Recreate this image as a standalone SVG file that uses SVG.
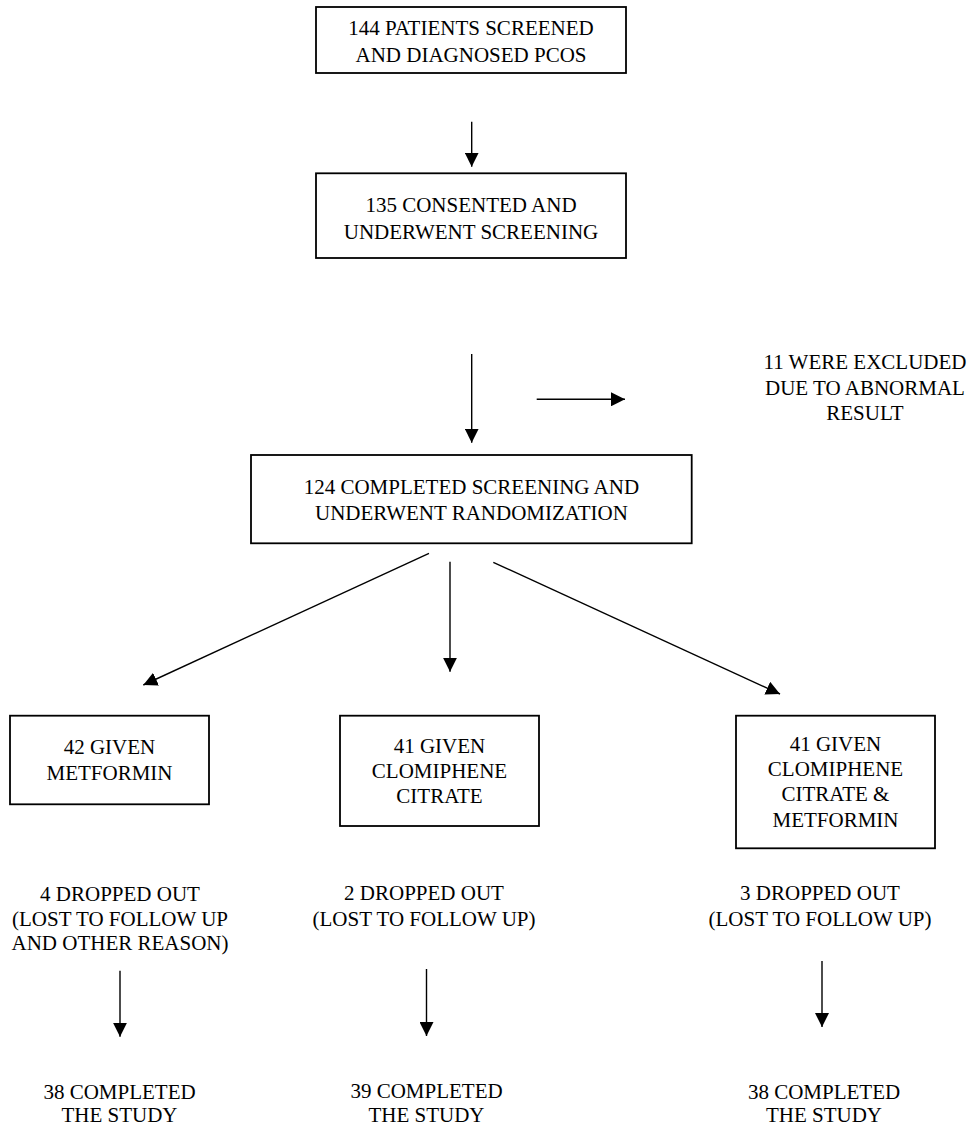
<svg xmlns="http://www.w3.org/2000/svg" width="970" height="1125" viewBox="0 0 970 1125">
<style>
  text { font-family: "Liberation Serif", "Times New Roman", serif; font-size: 21px; fill: #000; text-anchor: middle; }
  .box { fill: #fff; stroke: #000; stroke-width: 1.8; }
  .conn line { stroke: #000; stroke-width: 1.4; marker-end: url(#ah); }
</style>
<defs>
  <marker id="ah" viewBox="0 0 14 14" refX="14" refY="7" markerWidth="14" markerHeight="14" markerUnits="userSpaceOnUse" orient="auto">
    <path d="M0,0 L14,7 L0,14 z" fill="#000"/>
  </marker>
</defs>
<rect width="970" height="1125" fill="#fff"/>

<g id="n-screened">
  <rect class="box" x="316" y="7" width="310" height="66"/>
  <text x="471" y="35.3">144 PATIENTS SCREENED</text>
  <text x="471" y="61.7">AND DIAGNOSED PCOS</text>
</g>
<g id="n-consented">
  <rect class="box" x="316" y="173.3" width="310" height="84.7"/>
  <text x="471" y="212">135 CONSENTED AND</text>
  <text x="471" y="238.7">UNDERWENT SCREENING</text>
</g>
<g id="n-excluded">
  <text x="865" y="368.7">11 WERE EXCLUDED</text>
  <text x="865" y="395">DUE TO ABNORMAL</text>
  <text x="865" y="420">RESULT</text>
</g>
<g id="n-randomized">
  <rect class="box" x="251" y="455" width="440.7" height="88.3"/>
  <text x="471.4" y="493.7">124 COMPLETED SCREENING AND</text>
  <text x="471.4" y="520.3">UNDERWENT RANDOMIZATION</text>
</g>
<g id="n-metformin">
  <rect class="box" x="10" y="715.7" width="199" height="88.6"/>
  <text x="109.5" y="754.3">42 GIVEN</text>
  <text x="109.5" y="779.7">METFORMIN</text>
</g>
<g id="n-clomiphene">
  <rect class="box" x="340" y="715.7" width="199" height="110.3"/>
  <text x="439.5" y="752.7">41 GIVEN</text>
  <text x="439.5" y="778">CLOMIPHENE</text>
  <text x="439.5" y="803.3">CITRATE</text>
</g>
<g id="n-combined">
  <rect class="box" x="736" y="715.7" width="199" height="132.6"/>
  <text x="835.5" y="750.5">41 GIVEN</text>
  <text x="835.5" y="776">CLOMIPHENE</text>
  <text x="835.5" y="801.3">CITRATE &amp;</text>
  <text x="835.5" y="826.6">METFORMIN</text>
</g>
<g id="n-drop-left">
  <text x="120" y="901">4 DROPPED OUT</text>
  <text x="120" y="926">(LOST TO FOLLOW UP</text>
  <text x="120" y="950.3">AND OTHER REASON)</text>
</g>
<g id="n-drop-mid">
  <text x="424" y="900">2 DROPPED OUT</text>
  <text x="424" y="925.5">(LOST TO FOLLOW UP)</text>
</g>
<g id="n-drop-right">
  <text x="820" y="900">3 DROPPED OUT</text>
  <text x="820" y="925.5">(LOST TO FOLLOW UP)</text>
</g>
<g id="n-done-left">
  <text x="119.5" y="1098.7">38 COMPLETED</text>
  <text x="119.5" y="1122">THE STUDY</text>
</g>
<g id="n-done-mid">
  <text x="426.5" y="1097.5">39 COMPLETED</text>
  <text x="426.5" y="1122">THE STUDY</text>
</g>
<g id="n-done-right">
  <text x="824" y="1098.7">38 COMPLETED</text>
  <text x="824" y="1122">THE STUDY</text>
</g>

<g id="connectors" class="conn">
  <line x1="471.7" y1="121.7" x2="471.7" y2="166.7"/>
  <line x1="471.7" y1="354" x2="471.7" y2="442.7"/>
  <line x1="536.7" y1="399.3" x2="625" y2="399.3"/>
  <line x1="429" y1="553.3" x2="143.3" y2="685"/>
  <line x1="450" y1="561.7" x2="450" y2="671.7"/>
  <line x1="493.3" y1="562.3" x2="780" y2="694"/>
  <line x1="120" y1="970.7" x2="120" y2="1036.7"/>
  <line x1="426.5" y1="969" x2="426.5" y2="1036"/>
  <line x1="822" y1="961" x2="822" y2="1027"/>
</g>
</svg>
